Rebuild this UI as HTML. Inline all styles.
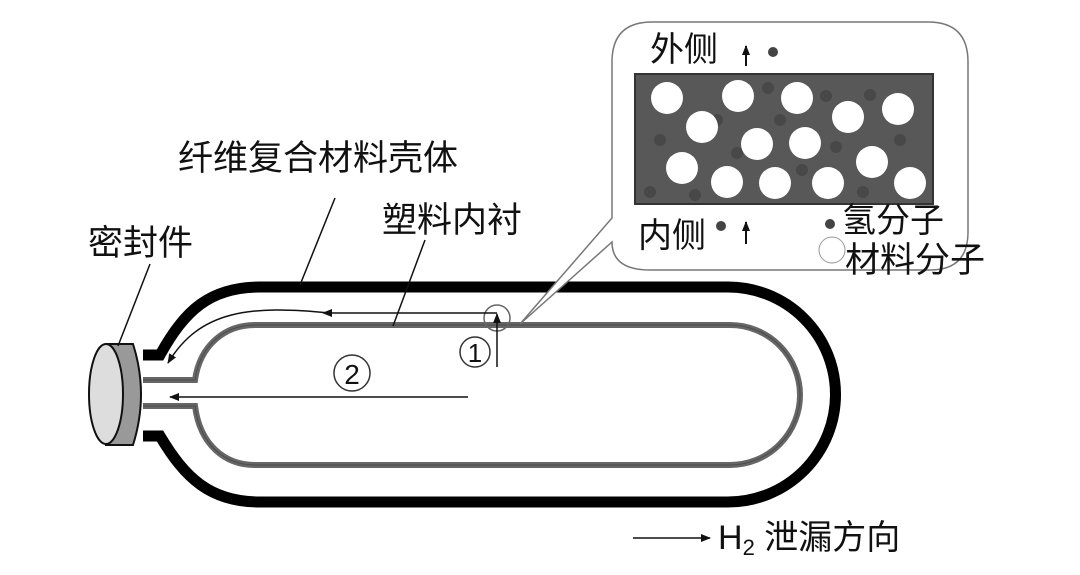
<!DOCTYPE html>
<html><head><meta charset="utf-8"><style>
body{margin:0;background:#fff;}
svg{display:block}
text{font-family:"Liberation Sans","Noto Sans CJK SC",sans-serif;fill:#111}
</style></head><body>
<svg width="1080" height="575" viewBox="0 0 1080 575" xmlns="http://www.w3.org/2000/svg">
<defs>
<marker id="ah" markerWidth="10" markerHeight="8" refX="9" refY="4" orient="auto" markerUnits="userSpaceOnUse"><path d="M0,0 L10,4 L0,8 z" fill="#111"/></marker>
</defs>
<path d="M143,355 L160,355 C185,310 210,287 260,287 L728,287 A107.5,107.5 0 0 1 728,502 L260,502 C210,502 185,478 160,436 L143,436" fill="none" stroke="#000" stroke-width="11"/>
<path d="M143,380 L195,380 C200,345 225,325 255,325 L730,325 A70,70 0 0 1 730,465 L255,465 C225,465 200,445 195,406 L143,406" fill="none" stroke="#666" stroke-width="6"/>
<path d="M143,380 L195,380 C200,345 225,325 255,325 L730,325 A70,70 0 0 1 730,465 L255,465 C225,465 200,445 195,406 L143,406" fill="none" stroke="#222" stroke-width="1" opacity="0.4"/>
<path d="M106,344 L133,344 Q149,394 133,445 L106,445 z" fill="#999" stroke="#111" stroke-width="2"/>
<ellipse cx="106" cy="394" rx="17" ry="50" fill="#ddd" stroke="#111" stroke-width="2"/>
<line x1="335" y1="198" x2="300" y2="285" stroke="#111" stroke-width="1.5"/>
<line x1="425" y1="240" x2="393" y2="326" stroke="#111" stroke-width="1.5"/>
<line x1="150" y1="264" x2="118" y2="346" stroke="#111" stroke-width="1.5"/>
<path d="M652,22 L928,22 Q968,22 968,62 L968,232 Q968,270 930,270 L650,270 Q612,270 612,242 L520,324 L612,218 L612,62 Q612,22 652,22 z" fill="#fff" stroke="#777" stroke-width="1.5"/>
<rect x="635" y="74" width="298" height="130" fill="#585858" stroke="#333" stroke-width="2"/>
<g fill="#484848">
<circle cx="660" cy="140" r="6"/><circle cx="650" cy="192" r="6"/><circle cx="695" cy="195" r="6"/><circle cx="717" cy="120" r="6"/><circle cx="737" cy="153" r="6"/><circle cx="768" cy="88" r="6"/><circle cx="780" cy="120" r="6"/><circle cx="826" cy="96" r="6"/><circle cx="836" cy="147" r="6"/><circle cx="802" cy="170" r="6"/><circle cx="870" cy="95" r="6"/><circle cx="900" cy="140" r="6"/><circle cx="863" cy="192" r="6"/>
</g>
<g fill="#fff">
<circle cx="667" cy="98" r="16"/><circle cx="738" cy="96" r="16"/><circle cx="797" cy="98" r="16"/><circle cx="848" cy="117" r="16"/><circle cx="898" cy="109" r="16"/><circle cx="702" cy="127" r="16"/><circle cx="757" cy="144" r="16"/><circle cx="805" cy="143" r="16"/><circle cx="682" cy="168" r="16"/><circle cx="872" cy="162" r="16"/><circle cx="727" cy="182" r="16"/><circle cx="775" cy="183" r="16"/><circle cx="828" cy="183" r="16"/><circle cx="910" cy="183" r="16"/>
</g>
<text x="650" y="61" font-size="34">外侧</text>
<line x1="746" y1="66" x2="746" y2="46" stroke="#111" stroke-width="2" marker-end="url(#ah)"/>
<circle cx="773" cy="52" r="5" fill="#444"/>
<text x="638" y="247" font-size="34">内侧</text>
<circle cx="721" cy="226" r="5" fill="#444"/>
<line x1="746" y1="244" x2="746" y2="222" stroke="#111" stroke-width="2" marker-end="url(#ah)"/>
<circle cx="830" cy="224" r="5" fill="#444"/>
<text x="842" y="232" font-size="34">氢分子</text>
<circle cx="832" cy="250" r="13" fill="#fff" stroke="#999" stroke-width="1"/>
<text x="845" y="272" font-size="35">材料分子</text>
<text x="178" y="170" font-size="35">纤维复合材料壳体</text>
<text x="382" y="232" font-size="35">塑料内衬</text>
<text x="88" y="255" font-size="35">密封件</text>
<circle cx="497" cy="318" r="13" fill="none" stroke="#666" stroke-width="1.5"/>
<line x1="497" y1="367" x2="497" y2="314" stroke="#111" stroke-width="1.5" marker-end="url(#ah)"/>
<path d="M497,313 L330,313 C250,305 200,310 168,363" fill="none" stroke="#111" stroke-width="1.5" marker-end="url(#ah)"/>
<path d="M322,313 L332,309 L332,317 z" fill="#111"/>
<circle cx="475" cy="352" r="15" fill="none" stroke="#333" stroke-width="1.5"/>
<text x="475" y="362" font-size="26" text-anchor="middle">1</text>
<circle cx="352" cy="373" r="18" fill="none" stroke="#333" stroke-width="1.5"/>
<text x="352" y="384" font-size="28" text-anchor="middle">2</text>
<line x1="468" y1="397" x2="170" y2="397" stroke="#111" stroke-width="1.5" marker-end="url(#ah)"/>
<line x1="633" y1="538" x2="710" y2="538" stroke="#111" stroke-width="1.5" marker-end="url(#ah)"/>
<text x="718" y="549" font-size="34" font-family="Liberation Serif,Noto Serif CJK SC,serif">H<tspan font-size="22" dy="6">2</tspan><tspan dy="-6"> 泄漏方向</tspan></text>
</svg>
</body></html>
